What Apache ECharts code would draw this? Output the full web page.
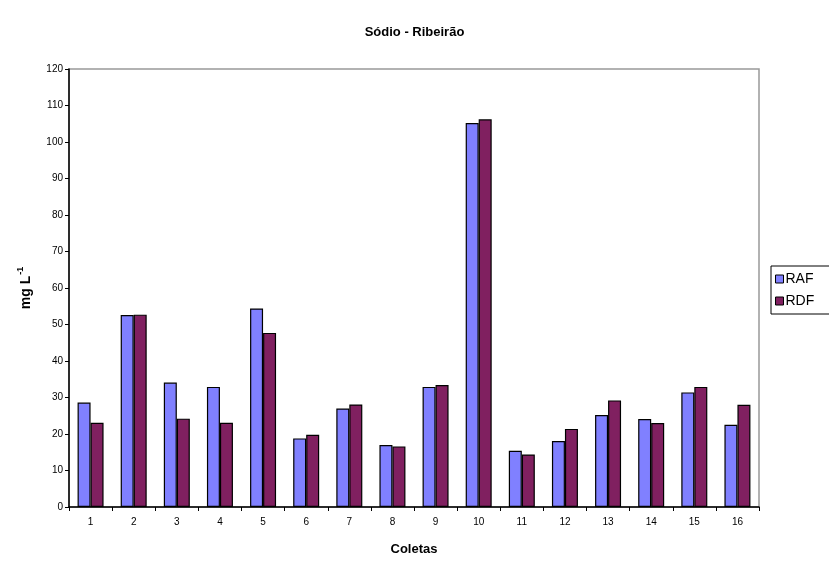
<!DOCTYPE html>
<html>
<head>
<meta charset="utf-8">
<script src="https://cdn.jsdelivr.net/npm/echarts@6/dist/echarts.min.js"></script>
<style>
  html, body { margin: 0; padding: 0; background: #fff; }
  #chart { width: 829px; height: 561px; }
</style>
</head>
<body>
<div id="chart"></div>
<script>
// Sodium concentration per sampling campaign, two sampling points
const coletas = ['1','2','3','4','5','6','7','8','9','10','11','12','13','14','15','16'];
const raf = [28.6, 52.6, 34.1, 32.9, 54.4, 18.8, 27.0, 17.0, 32.9, 105.2, 15.4, 18.1, 25.2, 24.1, 31.4, 22.5];
const rdf = [23.1, 52.7, 24.2, 23.1, 47.7, 19.8, 28.1, 16.6, 33.4, 106.2, 14.4, 21.4, 29.2, 23.0, 32.9, 28.0];
const yTicks = { min: 0, max: 120, interval: 10 };

const FONT = '"Liberation Sans", Arial, sans-serif';
const chart = echarts.init(document.getElementById('chart'), null, { renderer: 'canvas' });

const barStyle = (color) => ({
  color: color,
  borderColor: '#000',
  borderWidth: 1.2
});

chart.setOption({
  backgroundColor: '#fff',
  animation: false,
  textStyle: { fontFamily: FONT },
  title: {
    text: 'Sódio - Ribeirão',
    left: 'center',
    top: 21,
    textStyle: { fontFamily: FONT, fontSize: 13, fontWeight: 'bold', color: '#000' }
  },
  legend: {
    orient: 'vertical',
    left: 771,
    top: 266,
    padding: [6, 30, 6, 4],
    borderColor: '#000',
    borderWidth: 1,
    itemWidth: 8,
    itemHeight: 8,
    itemGap: 8,
    icon: 'rect',
    textStyle: { fontFamily: FONT, fontSize: 14, color: '#000', padding: [0, 0, 0, -3] },
    data: [
      { name: 'RAF', itemStyle: { color: '#8080FF', borderColor: '#000', borderWidth: 1 } },
      { name: 'RDF', itemStyle: { color: '#802060', borderColor: '#000', borderWidth: 1 } }
    ]
  },
  grid: {
    left: 69,
    right: 70,
    top: 69,
    bottom: 53,
    show: true,
    borderColor: '#999',
    borderWidth: 1.5,
    backgroundColor: '#fff'
  },
  xAxis: {
    type: 'category',
    data: coletas,
    boundaryGap: true,
    name: 'Coletas',
    nameLocation: 'middle',
    nameGap: 36,
    nameTextStyle: { fontFamily: FONT, fontSize: 13, fontWeight: 'bold', color: '#000' },
    axisLine: { show: true, lineStyle: { color: '#000', width: 1.5 } },
    axisTick: { show: true, alignWithLabel: false, length: 4, lineStyle: { color: '#000', width: 1 } },
    axisLabel: { fontFamily: FONT, fontSize: 10, color: '#000', margin: 10, interval: 0 },
    splitLine: { show: false }
  },
  yAxis: {
    type: 'value',
    min: yTicks.min,
    max: yTicks.max,
    interval: yTicks.interval,
    name: '{b|mg L}{s|-1}',
    nameLocation: 'middle',
    nameRotate: 90,
    nameGap: 36,
    nameTextStyle: {
      fontFamily: FONT,
      rich: {
        b: { fontFamily: FONT, fontSize: 14, fontWeight: 'bold', color: '#000', lineHeight: 17, verticalAlign: 'bottom' },
        s: { fontFamily: FONT, fontSize: 9, fontWeight: 'bold', color: '#000', lineHeight: 17, verticalAlign: 'top', padding: [0, 0, 6, 1] }
      }
    },
    axisLine: { show: true, lineStyle: { color: '#000', width: 1.5 } },
    axisTick: { show: true, length: 4, inside: false, lineStyle: { color: '#000', width: 1 } },
    axisLabel: { fontFamily: FONT, fontSize: 10, color: '#000', margin: 6 },
    splitLine: { show: false }
  },
  series: [
    { name: 'RAF', type: 'bar', data: raf, barWidth: 13, barGap: '0%', itemStyle: barStyle('#8080FF') },
    { name: 'RDF', type: 'bar', data: rdf, barWidth: 13, barGap: '0%', itemStyle: barStyle('#802060') }
  ]
});
</script>
</body>
</html>
